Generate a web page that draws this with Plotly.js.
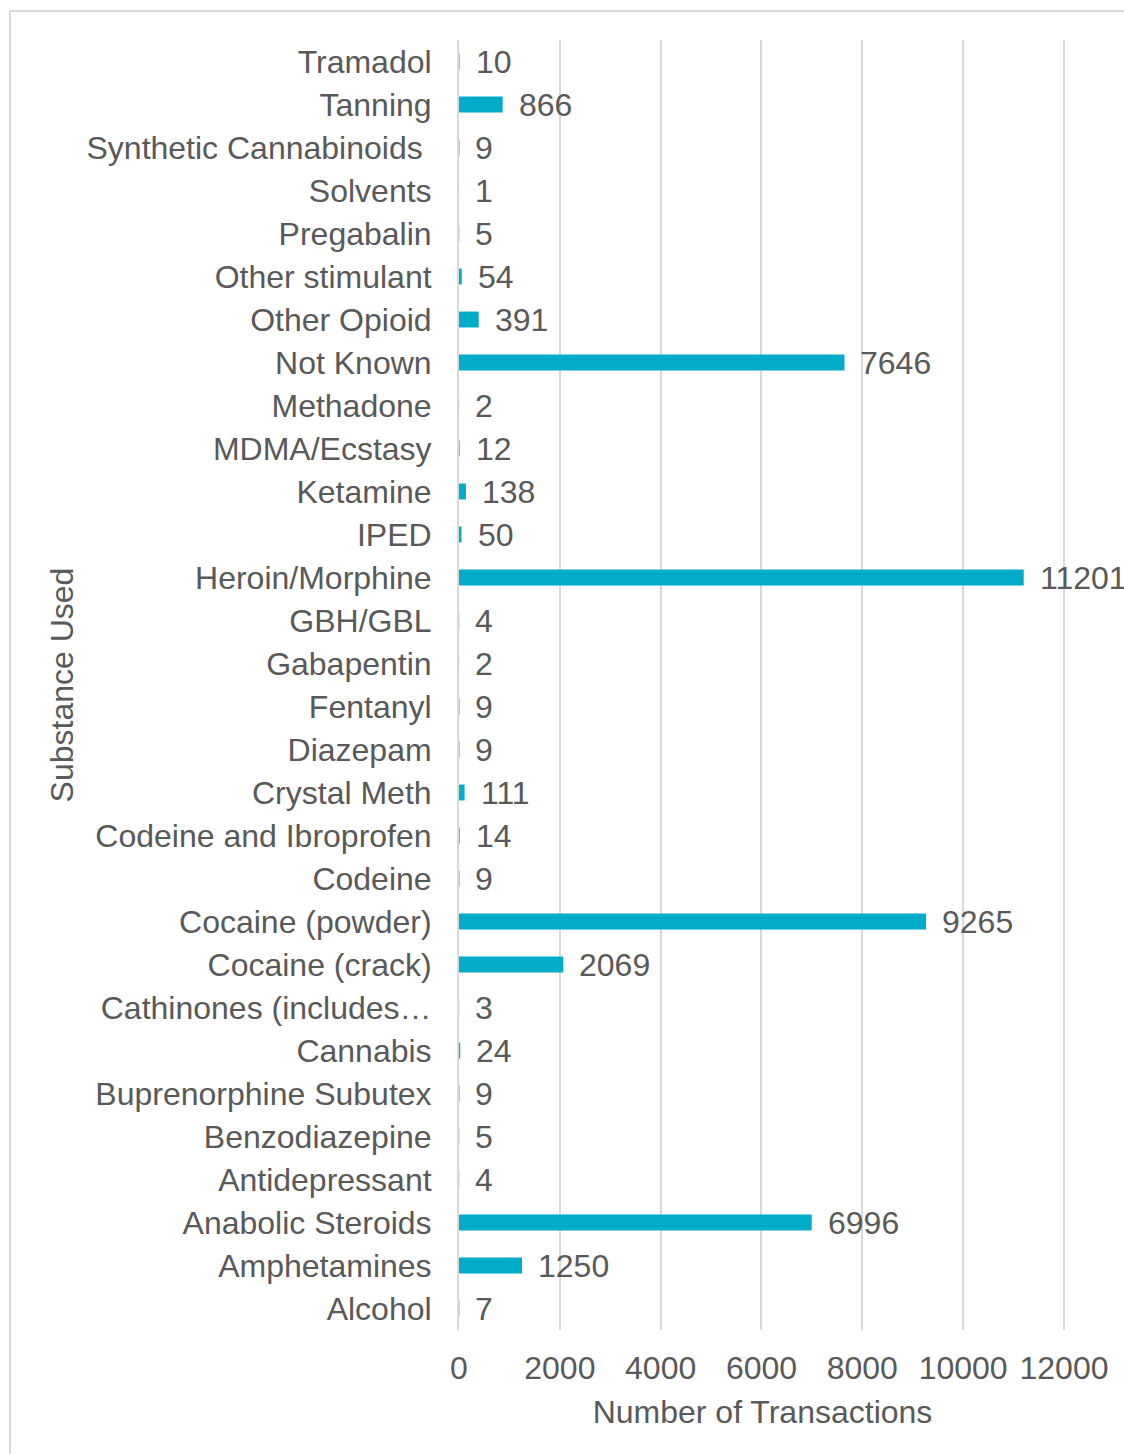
<!DOCTYPE html>
<html>
<head>
<meta charset="utf-8">
<script src="https://cdn.plot.ly/plotly-3.0.1.min.js"></script>
<style>
  html, body { margin: 0; padding: 0; background: #fff; overflow: hidden; }
  #frame { position: absolute; left: 9px; top: 10px; width: 1300px; height: 1600px; border: 2px solid #d9d9d9; box-sizing: border-box; }
  #chart { position: absolute; left: 0; top: 0; width: 1124px; height: 1454px; }
</style>
</head>
<body>
<div id="frame"></div>
<div id="chart"></div>
<script>
// Categories listed top to bottom as shown
const categories = [
  "Tramadol", "Tanning", "Synthetic Cannabinoids\u00a0", "Solvents", "Pregabalin",
  "Other stimulant", "Other Opioid", "Not Known", "Methadone", "MDMA/Ecstasy",
  "Ketamine", "IPED", "Heroin/Morphine", "GBH/GBL", "Gabapentin",
  "Fentanyl", "Diazepam", "Crystal Meth", "Codeine and Ibroprofen", "Codeine",
  "Cocaine (powder)", "Cocaine (crack)", "Cathinones (includes\u2026", "Cannabis", "Buprenorphine Subutex",
  "Benzodiazepine", "Antidepressant", "Anabolic Steroids", "Amphetamines", "Alcohol"
];
const transactions = [
  10, 866, 9, 1, 5,
  54, 391, 7646, 2, 12,
  138, 50, 11201, 4, 2,
  9, 9, 111, 14, 9,
  9265, 2069, 3, 24, 9,
  5, 4, 6996, 1250, 7
];
const xTicks = [0, 2000, 4000, 6000, 8000, 10000, 12000];
const xTitle = "Number of Transactions";
const yTitle = "Substance Used";

const textColor = "#595959";
const fontFamily = "'Liberation Sans', Arial, sans-serif";
const fs = 32;

const trace = {
  type: "bar",
  orientation: "h",
  x: transactions,
  y: categories,
  marker: { color: "#00ACC8" },
  width: 0.37,
  hoverinfo: "x+y"
};

const annotations = transactions.map((v, i) => ({
  x: v, y: categories[i], xref: "x", yref: "y",
  text: String(v), showarrow: false, xanchor: "left", yanchor: "middle",
  xshift: 14, yshift: 0,
  font: { family: fontFamily, size: fs, color: textColor }
}));

const layout = {
  width: 1124, height: 1454,
  paper_bgcolor: "rgba(0,0,0,0)",
  plot_bgcolor: "rgba(0,0,0,0)",
  margin: { l: 459, r: 58, t: 40, b: 124, pad: 0 },
  font: { family: fontFamily, size: fs, color: textColor },
  showlegend: false,
  xaxis: {
    range: [0, 12040],
    tickvals: xTicks,
    ticktext: xTicks.map(String),
    showgrid: true, gridcolor: "#d9d9d9", gridwidth: 2,
    zeroline: false, showline: false,
    ticks: "outside", ticklen: 10, tickcolor: "rgba(0,0,0,0)",
    tickfont: { family: fontFamily, size: fs, color: textColor },
    title: { text: xTitle, standoff: 15, font: { family: fontFamily, size: fs, color: textColor } },
    fixedrange: true
  },
  yaxis: {
    type: "category",
    autorange: "reversed",
    showgrid: false, zeroline: false,
    showline: true, linecolor: "#d9d9d9", linewidth: 2,
    ticks: "outside", ticklen: 19, tickcolor: "rgba(0,0,0,0)",
    tickfont: { family: fontFamily, size: fs, color: textColor },
    title: { text: yTitle, standoff: 3, font: { family: fontFamily, size: fs, color: textColor } },
    fixedrange: true
  },
  annotations: annotations
};

Plotly.newPlot("chart", [trace], layout, { displayModeBar: false, staticPlot: true });
</script>
</body>
</html>
